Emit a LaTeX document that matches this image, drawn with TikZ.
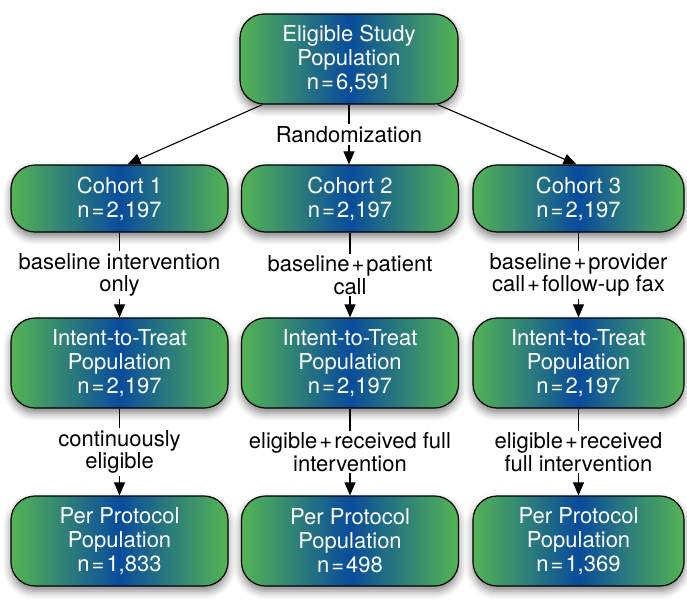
\documentclass[tikz,border=0pt]{standalone}
\usepackage{fontspec}
\setmainfont{TeX Gyre Heros}
\usetikzlibrary{arrows.meta,shadows.blur,calc}
\definecolor{edgegreen}{RGB}{84,180,84}
\definecolor{midblue}{RGB}{8,76,156}
\newcommand{\eqk}{\kern2pt=\kern2pt}
\newcommand{\plk}{\kern2pt+\kern2pt}

\begin{document}
\begin{tikzpicture}[x=1pt,y=-1pt,
  box/.style={draw=black, line width=1.2pt, rounded corners=24pt,
    minimum width=217pt, inner sep=0pt, align=center, text=white,
    left color=edgegreen, right color=edgegreen, middle color=midblue,
    blur shadow={shadow xshift=0pt, shadow yshift=-5pt,
      shadow blur radius=8pt, shadow opacity=50},
    font=\fontsize{22}{24}\selectfont},
  tallbox/.style={box, minimum height=90pt},
  shortbox/.style={box, minimum height=67pt},
  flow/.style={line width=1.1pt, -{Triangle[length=13pt,width=11pt]}},
  lbl/.style={fill=white, inner sep=2pt, align=center, text=black,
    font=\fontsize{22}{22.5}\selectfont}]

\useasboundingbox (0,0) rectangle (687,606);

% top level
\node[tallbox, minimum width=218pt] (top) at (349,59)
  {Eligible Study\\Population\\n\eqk6,591};

% cohorts
\node[shortbox] (c1) at (119.5,198.5) {Cohort 1\\n\eqk2,197};
\node[shortbox] (c2) at (350,198.5) {Cohort 2\\n\eqk2,197};
\node[shortbox, minimum width=211pt] (c3) at (578.5,198.5) {Cohort 3\\n\eqk2,197};

% intent-to-treat populations
\node[tallbox] (i1) at (119.5,363) {Intent-to-Treat\\Population\\n\eqk2,197};
\node[tallbox] (i2) at (350,363) {Intent-to-Treat\\Population\\n\eqk2,197};
\node[tallbox, minimum width=211pt] (i3) at (578.5,363) {Intent-to-Treat\\Population\\n\eqk2,197};

% per-protocol populations
\node[tallbox] (p1) at (119.5,541) {Per Protocol\\Population\\n\eqk1,833};
\node[tallbox] (p2) at (350,541) {Per Protocol\\Population\\n\eqk498};
\node[tallbox, minimum width=211pt] (p3) at (578.5,541) {Per Protocol\\Population\\n\eqk1,369};

% randomization
\draw[flow] ($(top.south west)+(23,0)$) -- ($(c1.north)+(8,0)$);
\draw[flow] ($(top.south east)+(-21,0)$) -- ($(c3.north)+(-2,0)$);
\draw[flow] (top.south) -- node[lbl] {Randomization} (top.south |- c2.north);

% interventions
\draw[flow] (c1.south) -- node[lbl] {baseline intervention\\only} (i1.north);
\draw[flow] (c2.south) -- node[lbl] {baseline\plk patient\\call} (i2.north);
\draw[flow] (c3.south) -- node[lbl] {baseline\plk provider\\call\plk follow-up fax} (i3.north);

% eligibility
\draw[flow] (i1.south) -- node[lbl] {continuously\\eligible} (p1.north);
\draw[flow] (i2.south) -- node[lbl] {eligible\plk received full\\intervention} (p2.north);
\draw[flow] (i3.south) -- node[lbl] {eligible\plk received\\full intervention} (p3.north);
\end{tikzpicture}
\end{document}
